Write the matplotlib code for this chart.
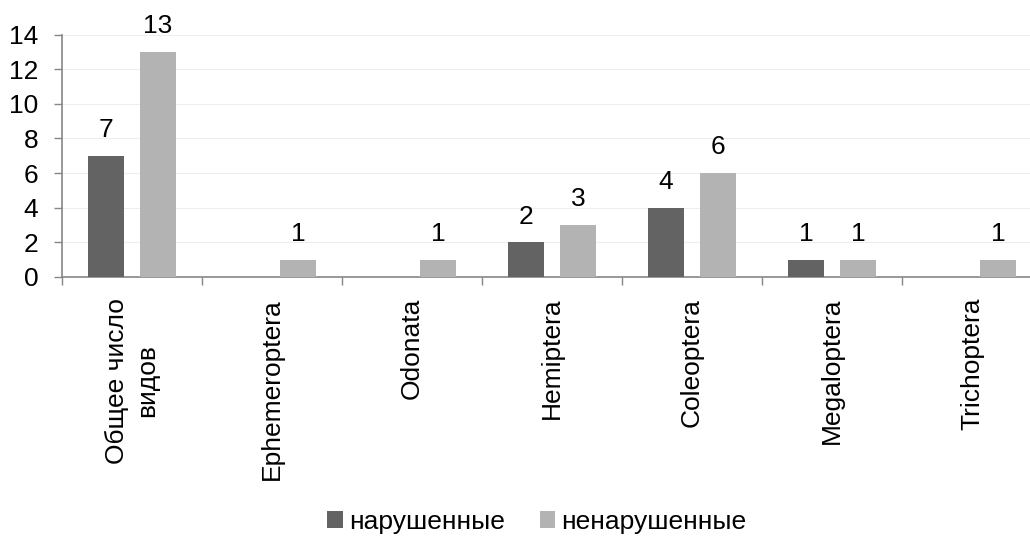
import numpy as np
import matplotlib.pyplot as plt

plt.rcParams['font.family'] = ['Liberation Sans', 'DejaVu Sans']

categories = ['Общее число\nвидов', 'Ephemeroptera', 'Odonata', 'Hemiptera',
              'Coleoptera', 'Megaloptera', 'Trichoptera']
disturbed = [7, 0, 0, 2, 4, 1, 0]
undisturbed = [13, 1, 1, 3, 6, 1, 1]
series_names = ['нарушенные', 'ненарушенные']

dark = '#636363'
light = '#b3b3b3'
axis_gray = '#868686'
fs = 19

fig = plt.figure(figsize=(10.3, 5.38), dpi=100)
ax = fig.add_axes([62 / 1030, (538 - 277) / 538, 980 / 1030, (277 - 34.5) / 538])

x = np.arange(len(categories)) + 0.5
w = 0.26
off = 0.186
b1 = ax.bar(x - off, disturbed, w, color=dark, label=series_names[0], zorder=3)
b2 = ax.bar(x + off, undisturbed, w, color=light, label=series_names[1], zorder=3)

# value labels; skip empty bars
for bars, vals in ((b1, disturbed), (b2, undisturbed)):
    for rect, v in zip(bars, vals):
        if v == 0:
            continue
        ax.text(rect.get_x() + rect.get_width() / 2, v + 0.8, str(v),
                ha='center', va='bottom', fontsize=fs)

ax.set_xlim(0, len(categories))
ax.set_ylim(0, 14)
ax.set_yticks(range(0, 15, 2))
ax.yaxis.grid(True, color='#eeeeee', linewidth=0.8, zorder=0)

ax.set_xticks(x)
ax.set_xticklabels(categories, rotation=90, va='top', ha='center',
                   multialignment='center', linespacing=1.35)
ax.set_xticks(np.arange(len(categories) + 1), minor=True)
ax.tick_params(axis='x', which='major', length=0, pad=15, labelsize=fs)
ax.tick_params(axis='x', which='minor', length=6, color=axis_gray, width=1)
ax.tick_params(axis='y', length=6, color=axis_gray, width=1, labelsize=fs, pad=11)

for s in ('top', 'right'):
    ax.spines[s].set_visible(False)
for s in ('left', 'bottom'):
    ax.spines[s].set_color(axis_gray)
    ax.spines[s].set_linewidth(1.2)

fig.legend(handles=[b1, b2], labels=series_names, loc='center',
           bbox_to_anchor=(537 / 1030, 1 - 522 / 538), ncol=2, frameon=False,
           fontsize=fs, handlelength=0.58, handleheight=0.58, handletextpad=0.25,
           columnspacing=1.3)

fig.savefig('out.png', dpi=100)
